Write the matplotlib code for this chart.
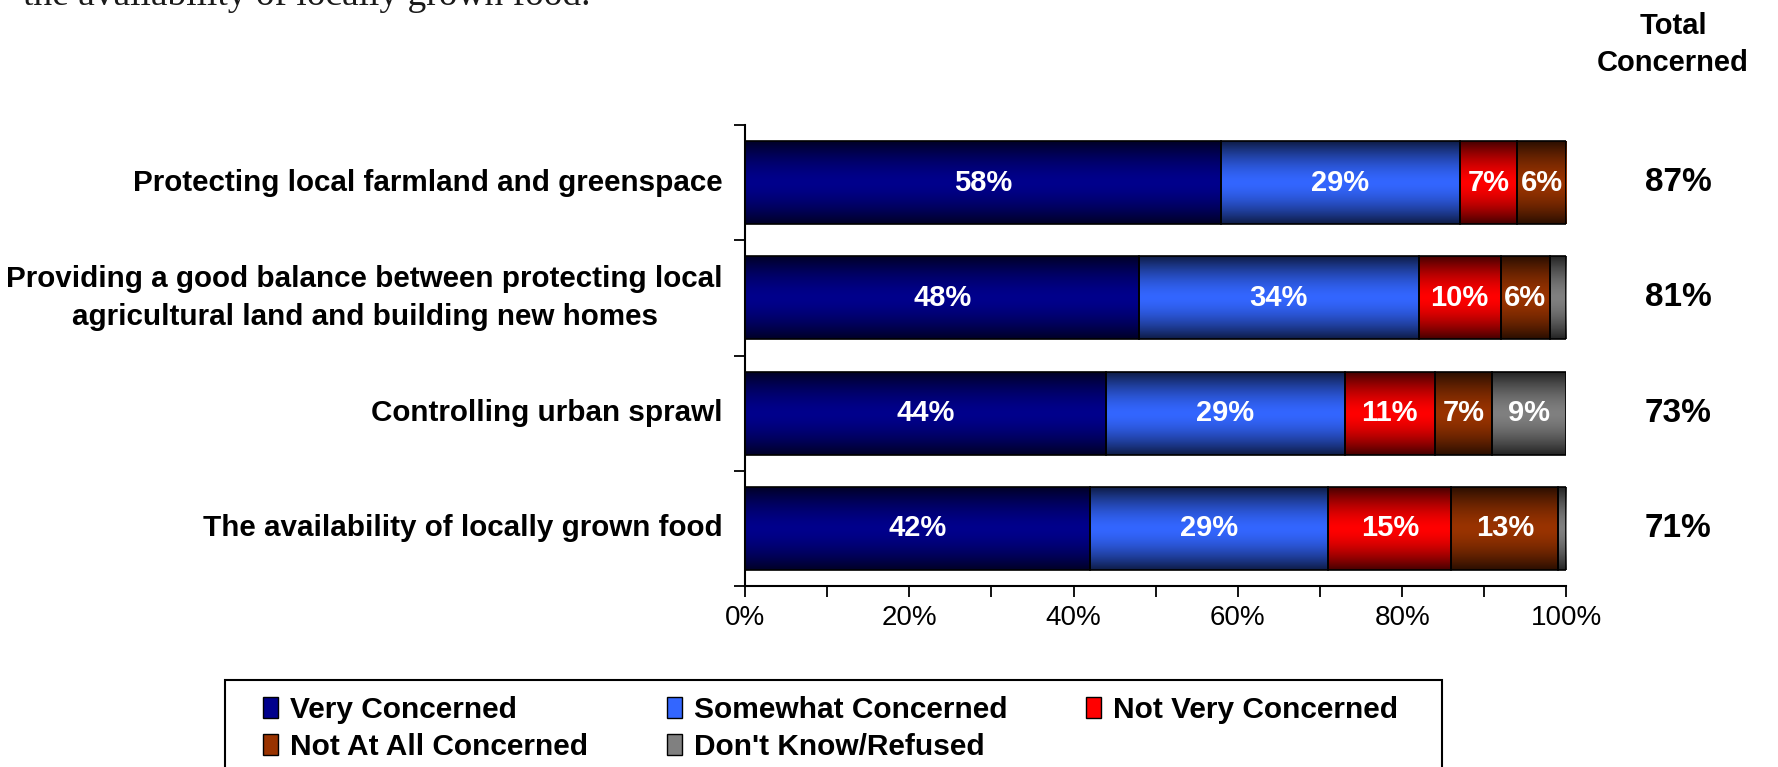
import matplotlib
matplotlib.use("Agg")
import matplotlib.pyplot as plt
import matplotlib.colors as mcolors
from matplotlib.patches import Patch, Rectangle
from matplotlib.ticker import MultipleLocator, FuncFormatter
import numpy as np

categories = ["Protecting local farmland and greenspace",
              "Providing a good balance between protecting local\nagricultural land and building new homes",
              "Controlling urban sprawl",
              "The availability of locally grown food"]
very_concerned = [58, 48, 44, 42]
somewhat_concerned = [29, 34, 29, 29]
not_very_concerned = [7, 10, 11, 15]
not_at_all_concerned = [6, 6, 7, 13]
dont_know = [0, 2, 9, 1]
total_concerned = [87, 81, 73, 71]

series_names = ["Very Concerned", "Somewhat Concerned", "Not Very Concerned",
                "Not At All Concerned", "Don't Know/Refused"]
series_colors = ["#00008c", "#3366ff", "#ff0000", "#993300", "#808080"]
series_values = [very_concerned, somewhat_concerned, not_very_concerned,
                 not_at_all_concerned, dont_know]

plt.rcParams['font.family'] = ['Liberation Sans', 'DejaVu Sans']


def shade(color, n=80):
    # dark at top and bottom edge, full colour in the middle
    base = np.array(mcolors.to_rgb(color))
    t = np.linspace(0, 1, n)
    s = 1 - np.abs(2 * t - 1) ** 1.6
    k = 0.28 + 0.72 * s
    return (k[:, None] * base[None, :])[:, None, :]


fig = plt.figure(figsize=(17.78, 7.67), dpi=100)
ax = fig.add_axes([0.419, 0.236, 0.462, 0.601])

y = np.arange(len(categories))
left = np.zeros(len(categories))
bar_h = 0.72
for name, vals, col in zip(series_names, series_values, series_colors):
    vals = np.array(vals, dtype=float)
    bars = ax.barh(y, vals, left=left, height=bar_h, color=col, zorder=2)
    grad = shade(col)
    for b in bars:
        if b.get_width() <= 0:
            continue
        x0, y0, w, h = b.get_x(), b.get_y(), b.get_width(), b.get_height()
        ax.imshow(grad, extent=(x0, x0 + w, y0 + h, y0), aspect='auto',
                  interpolation='bilinear', zorder=2.5)
    ax.barh(y, vals, left=left, height=bar_h, fill=False, edgecolor='black',
            linewidth=1.2, zorder=3)
    for i, v in enumerate(vals):
        if v >= 5:
            ax.text(left[i] + v / 2, i, f"{int(v)}%", color='white', fontsize=21,
                    fontweight='bold', ha='center', va='center', zorder=4)
    left += vals

ax.set_xlim(0, 100)
ax.set_ylim(len(categories) - 0.5, -0.5)
ax.xaxis.set_major_locator(MultipleLocator(20))
ax.xaxis.set_minor_locator(MultipleLocator(10))
ax.xaxis.set_major_formatter(FuncFormatter(lambda v, p: f"{int(v)}%"))
ax.tick_params(axis='x', which='both', direction='out', length=8, width=1.3,
               labelsize=20, pad=6)
ax.set_yticks(np.arange(-0.5, len(categories), 1.0))
ax.set_yticklabels([])
ax.tick_params(axis='y', direction='out', length=8, width=1.3)
for sp in ['top', 'right']:
    ax.spines[sp].set_visible(False)
for sp in ['left', 'bottom']:
    ax.spines[sp].set_linewidth(1.5)

for i, cat in enumerate(categories):
    ax.text(-0.027, i, cat, transform=ax.get_yaxis_transform(), ha='right',
            va='center', multialignment='center', fontsize=21.3, fontweight='bold',
            linespacing=1.45)
    ax.text(1.136, i, f"{total_concerned[i]}%", transform=ax.get_yaxis_transform(),
            ha='center', va='center', fontsize=24, fontweight='bold')

fig.text(0.941, 0.942, "Total\nConcerned", ha='center', va='center',
         fontsize=21, fontweight='bold', linespacing=1.45)

fig.text(0.013, 0.9935, "the availability of locally grown food.", ha='left',
         va='baseline', fontsize=27, family='Liberation Serif', color='#1a1a1a')

# legend is filled column by column: reorder so rows read like the original
order = [0, 3, 1, 4, 2]
handles = [Patch(facecolor=series_colors[k], edgecolor='black', linewidth=1) for k in order]
labels = [series_names[k] for k in order]
leg = fig.legend(handles, labels, loc='upper left',
                 bbox_to_anchor=(0.148, -0.2, 0.638, 0.2926), mode='expand',
                 ncol=3, frameon=False,
                 prop={'family': 'Liberation Sans', 'weight': 'bold', 'size': 21.5},
                 handlelength=0.5, handleheight=0.75, handletextpad=0.4,
                 labelspacing=0.3, borderpad=0, borderaxespad=0)
# box around the legend, running off the bottom edge like the original
fig.add_artist(Rectangle((0.1265, -0.05), 0.6845, 0.1634, transform=fig.transFigure,
                         fill=False, edgecolor='black', linewidth=1.5))

fig.savefig('out.png', dpi=100)
